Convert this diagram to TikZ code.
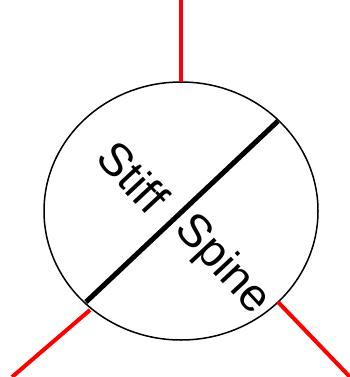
\documentclass[tikz,border=0pt]{standalone}
\usepackage{fontspec}
\setmainfont{Liberation Sans}
\usetikzlibrary{shapes.geometric}
\begin{document}
\begin{tikzpicture}[x=1pt,y=-1pt,
  redline/.style={draw=red,line width=4pt},
  lbl/.style={font=\fontsize{46}{46}\selectfont,inner sep=0pt,rotate=-47}]
\useasboundingbox (0,0) rectangle (350,377);
\node[draw,ellipse,minimum width=274pt,minimum height=258pt,line width=1.5pt] (c) at (181,211) {};
\coordinate (t0) at (181,0);
\coordinate (t1) at (181,82);
\coordinate (l0) at (90,310);
\coordinate (l1) at (12,377);
\coordinate (r0) at (278,302);
\coordinate (r1) at (350,377);
\coordinate (d0) at (86,302);
\coordinate (d1) at (278,121);
\draw[redline] (t0) -- (t1);
\draw[redline] (l0) -- (l1);
\draw[redline] (r0) -- (r1);
\draw[line width=5pt] (d0) -- (d1);
\node[lbl] (s1) at (133,177) {Stiff};
\node[lbl] (s2) at (222,265) {Spine};
\end{tikzpicture}
\end{document}
